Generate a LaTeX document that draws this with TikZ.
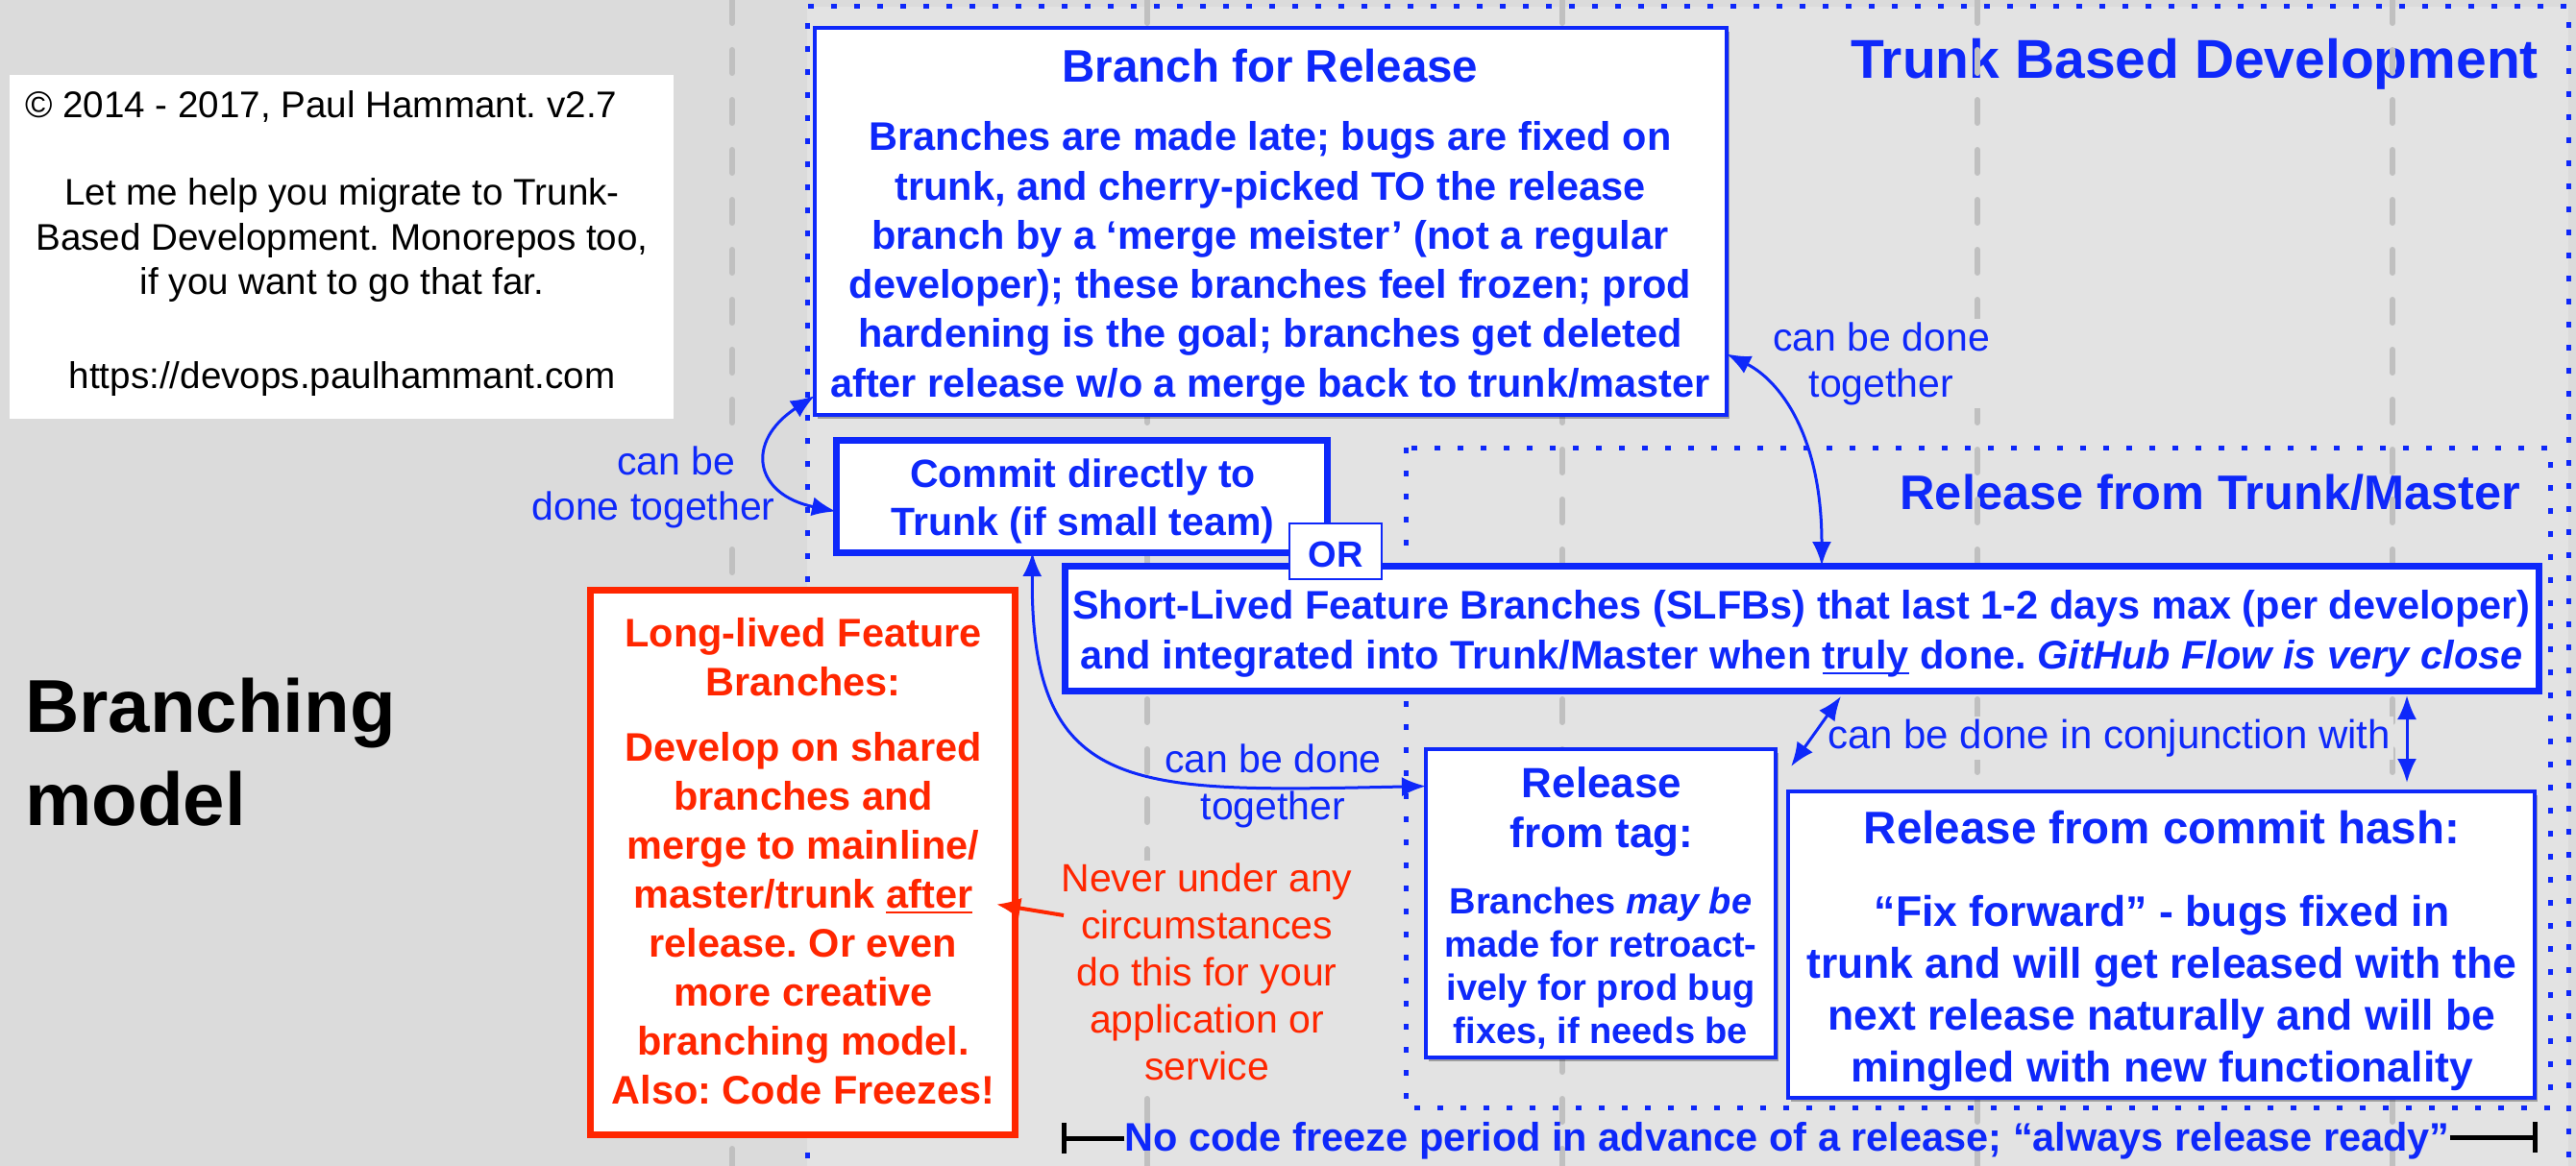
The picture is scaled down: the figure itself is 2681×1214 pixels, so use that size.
\documentclass[tikz,border=0pt]{standalone}
\usepackage{fontspec}
\setmainfont{Liberation Sans}
\usetikzlibrary{arrows.meta,shadows}
\definecolor{tbdblue}{RGB}{14,40,250}
\definecolor{tbdred}{RGB}{255,38,0}
\definecolor{bgout}{RGB}{219,219,219}
\definecolor{bgin}{RGB}{227,227,227}
\definecolor{gridgrey}{RGB}{192,192,192}
\newcommand{\myul}[1]{\setbox0\hbox{#1}\rlap{\rule[-6pt]{\wd0}{2.5pt}}\box0\relax}
\newcommand{\fs}[2]{\fontsize{#1}{#2}\selectfont}
\frenchspacing
\begin{document}
\begin{tikzpicture}[x=1pt,y=-1pt,
  every node/.style={inner sep=0pt,outer sep=0pt},
  gridline/.style={draw=gridgrey,line width=6pt,line cap=round,dash pattern=on 24pt off 28pt},
  dotframe/.style={draw=tbdblue,line width=5pt,dash pattern=on 6pt off 18pt},
  boxshadow/.style={drop shadow={shadow xshift=3pt,shadow yshift=-4pt,opacity=0.3,fill=black}},
  thinbox/.style={draw=tbdblue,fill=white,line width=4pt,boxshadow},
  thickbox/.style={draw=tbdblue,fill=white,line width=7pt,boxshadow},
  redbox/.style={draw=tbdred,fill=white,line width=7pt,boxshadow},
  btxt/.style={text=tbdblue,align=center,anchor=base},
  rtxt/.style={text=tbdred,align=center,anchor=base},
  lbl/.style={text=tbdblue,align=center,anchor=base,fill=bgin,inner sep=3pt},
  link/.style={draw=tbdblue,line width=3pt,{Latex[length=25pt,width=20pt]}-{Latex[length=25pt,width=20pt]}},
  redlink/.style={draw=tbdred,line width=4pt,-{Latex[length=25pt,width=22pt]}},
  barline/.style={draw=black,line width=5pt,-{Bar[width=32pt]}},
]
% background
\path[use as bounding box] (0,0) rectangle (2681,1214);
\fill[bgout] (0,0) rectangle (2681,1214);
\fill[bgin] (840,7) rectangle (2673,1214);

% region titles
\node[btxt,anchor=base east,font=\fs{57}{68}\bfseries] (tbd) at (2642,82) {Trunk Based Development};
\node[btxt,anchor=base east,font=\fs{50.5}{60}\bfseries] (rft) at (2623,530) {Release from Trunk/Master};

% grid lines
\foreach \gx in {762,1194,1626,2058,2490} \draw[gridline] (\gx,0) -- (\gx,1214);

% dotted frames
\draw[dotframe] (840,1230) -- (840,7) -- (2673,7) -- (2673,1230);
\draw[dotframe] (1463,466) rectangle (2654,1153);

% copyright box (base anchor = last line)
\node[fill=white,minimum width=691pt,minimum height=358pt] (copy) at (355.5,257) {};
\node[anchor=base west,font=\fs{38.6}{47}] (copy1) at (26,123) {© 2014 - 2017, Paul Hammant. v2.7};
\node[anchor=base,align=center,font=\fs{38.6}{46.5}] (copy2) at (356,307) {Let me help you migrate to Trunk-\\Based Development. Monorepos too,\\if you want to go that far.};
\node[anchor=base,font=\fs{38.6}{47}] (copy3) at (356,404) {https://devops.paulhammant.com};

% branching model
\node[anchor=base west,align=left,font=\fs{78}{97}\bfseries] (bm) at (26,859) {Branching\\model};

% labels
\node[lbl,fill=bgout,font=\fs{41}{47}] (lbl1) at (680,541) {\hspace*{48pt}can be\\done together};
\node[lbl,font=\fs{41}{48}] (lbl2) at (1958,413) {can be done\\together};
\node[lbl,font=\fs{41}{49}] (lbl3) at (1325,853) {can be done\\together};
\node[lbl,anchor=base west,font=\fs{42}{50}] (lbl4) at (1899,779) {can be done in conjunction with};
\node[lbl,text=tbdred,font=\fs{41}{48.8}] (never) at (1256,1124) {Never under any\\circumstances\\do this for your\\application or\\service};

% Branch for release
\node[thinbox,minimum width=949pt,minimum height=403pt] (bfr) at (1322.5,230.5) {};
\node[btxt,font=\fs{47.5}{55}\bfseries] (bfrt) at (1322,86) {Branch for Release};
\node[btxt,font=\fs{41.5}{51.2}\bfseries] (bfrb) at (1322,413) {Branches are made late; bugs are fixed on\\trunk, and cherry-picked TO the release\\branch by a ‘merge meister’ (not a regular\\developer); these branches feel frozen; prod\\hardening is the goal; branches get deleted\\after release w/o a merge back to trunk/master};

% commit directly
\node[thickbox,minimum width=511pt,minimum height=117pt] (commit) at (1125.5,516.5) {};
\node[btxt,font=\fs{41}{50}\bfseries] (committ) at (1127,557) {Commit directly to\\Trunk (if small team)};

% SLFB
\node[thickbox,minimum width=1534pt,minimum height=130pt] (slfb) at (1875,654) {};
\node[btxt,font=\fs{41.5}{52}\bfseries] (slfbt) at (1875,696) {Short-Lived Feature Branches (SLFBs) that last 1-2 days max (per developer)\\and integrated into Trunk/Master when \myul{truly} done. \textit{GitHub Flow is very close}};

% OR
\node[draw=tbdblue,fill=white,line width=2pt,minimum width=96pt,minimum height=58pt] (or) at (1390,574) {};
\node[btxt,font=\fs{38}{46}\bfseries] (ort) at (1390,590) {OR};

% long-lived
\node[redbox,minimum width=442pt,minimum height=567pt] (ll) at (835,897.5) {};
\node[rtxt,font=\fs{41.5}{51}\bfseries] (llt) at (836,724) {Long-lived Feature\\Branches:};
\node[rtxt,font=\fs{41.5}{50.9}\bfseries] (llb) at (836,1149) {Develop on shared\\branches and\\merge to mainline/\\master/trunk \myul{after}\\release. Or even\\more creative\\branching model.\\Also: Code Freezes!};

% release from tag
\node[thinbox,minimum width=364pt,minimum height=321pt] (tag) at (1666,940.5) {};
\node[btxt,font=\fs{44}{52}\bfseries] (tagt) at (1667,882) {Release\\from tag:};
\node[btxt,font=\fs{38}{45}\bfseries] (tagb) at (1666,1086) {Branches \textit{may be}\\made for retroact-\\ively for prod bug\\fixes, if needs be};

% release from commit hash
\node[thinbox,minimum width=777pt,minimum height=319pt] (hash) at (2249.5,983.5) {};
\node[btxt,font=\fs{47.5}{54}\bfseries] (hasht) at (2250,878) {Release from commit hash:};
\node[btxt,font=\fs{44.5}{54}\bfseries] (hashb) at (2250,1126) {“Fix forward” - bugs fixed in\\trunk and will get released with the\\next release naturally and will be\\mingled with new functionality};

% bottom line
\node[btxt,font=\fs{41.5}{50}\bfseries] (ncf) at (1860,1198) {No code freeze period in advance of a release; “always release ready”};
\coordinate (barL) at (1105,1185);
\coordinate (barR) at (2641,1184);
\draw[barline] (ncf.west |- barL) -- (barL);
\draw[barline] (ncf.east |- barR) -- (barR);

% connectors
\draw[link] ([yshift=20pt]bfr.south west) .. controls (775,460) and (785,515) .. ([yshift=-16pt]commit.west);
\draw[link] ([yshift=-138pt]bfr.east) .. controls (1850,395) and (1896,450) .. ([xshift=21pt]slfb.north);
\draw[link] ([xshift=-51pt]commit.south) .. controls (1072,830) and (1180,825) .. ([yshift=122pt]tag.west);
\draw[link] ([xshift=41pt,yshift=-6pt]slfb.south) -- ([xshift=16pt,yshift=-18pt]tag.north east);
\draw[link] ([xshift=630pt,yshift=-5pt]slfb.south) -- ([xshift=255.5pt,yshift=9pt]hash.north);
\coordinate (nvS) at (1107,953);
\draw[redlink] (nvS) -- ([xshift=-19pt,yshift=-44pt]ll.east);
\end{tikzpicture}
\end{document}
